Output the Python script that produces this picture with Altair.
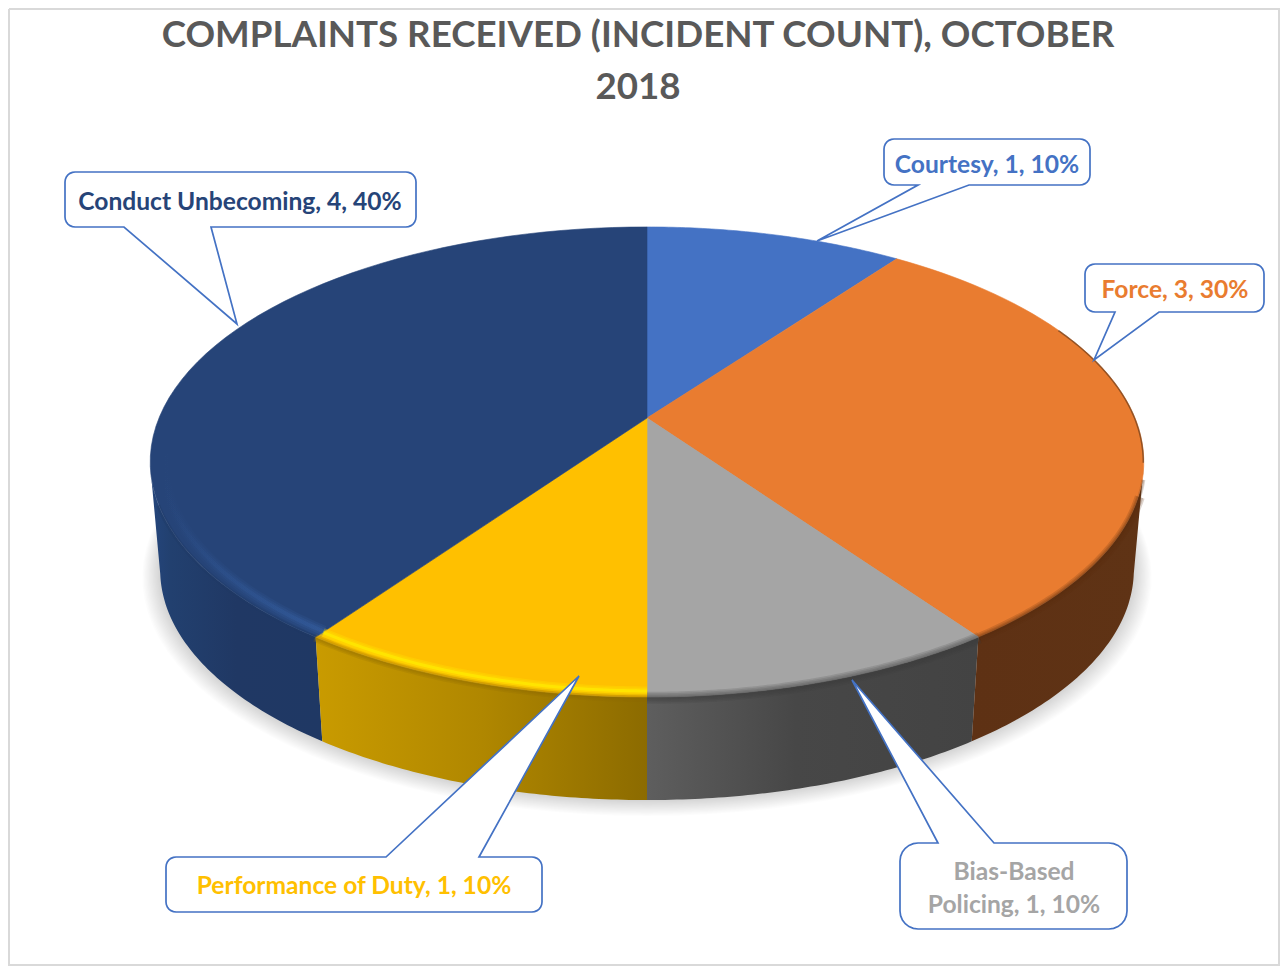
import math
import altair as alt
import pandas as pd

# ---- chart values ----
categories = ["Courtesy", "Force", "Bias-Based Policing", "Performance of Duty", "Conduct Unbecoming"]
counts = [1, 3, 1, 1, 4]
shares = ["10%", "30%", "10%", "10%", "40%"]
top_colors = ["#4472C4", "#E97C30", "#A5A5A5", "#FFC000", "#264478"]
title_lines = ["COMPLAINTS RECEIVED (INCIDENT COUNT), OCTOBER", "2018"]

# ---- layout (page pixels, mapped by the x / y scales) ----
W, H = 1272, 958
OX, OY = 8, 8
CX, CY = 647, 418
AX, AY, B = 488, 226.8, 0.1872
S_BOT, Y_BOT = 0.98, 526.6
FONT = "Lato"

xs = alt.X("x:Q", axis=None, scale=alt.Scale(domain=[OX, OX + W], nice=False, zero=False))
ys = alt.Y("y:Q", axis=None, scale=alt.Scale(domain=[OY + H, OY], nice=False, zero=False))


def pt(phi, s=1.0, cy=CY):
    a = math.radians(phi)
    a += math.radians(0.9 * math.sin(a) / 0.588 * (1 - math.cos(a)) / 1.809)
    u, v = math.sin(a), math.cos(a)
    d = 1 + B * v
    return CX + s * AX * u / d, cy - s * AY * v / d


def rim(p0, p1, s=1.0, cy=CY, n=60):
    return [pt(p0 + (p1 - p0) * i / n, s, cy) for i in range(n + 1)]


def frame(points, group=0):
    return pd.DataFrame({"x": [p[0] for p in points], "y": [p[1] for p in points],
                         "i": range(len(points)), "g": group})


def poly(points, **mark):
    d = frame(points)
    return alt.Chart(d).mark_line(**mark).encode(x=xs, y=ys, order=alt.Order("i:Q"))


def grad(stops):
    return alt.Gradient(gradient="linear", x1=0, y1=0, x2=1, y2=0,
                        stops=[alt.GradientStop(offset=o, color=c) for o, c in stops])


total = sum(counts)
edges = [0.0]
for c in counts:
    edges.append(edges[-1] + 360.0 * c / total)

layers = []

# soft shadow under the disc
shadow_n = 14
shadow = pd.concat([
    frame(rim(0, 360, S_BOT + 0.036 * (k + 1) / shadow_n, Y_BOT + 6.0 * (k + 1) / shadow_n, 120), k)
    for k in range(shadow_n)
])
layers.append(alt.Chart(shadow).mark_line(fill="#000000", fillOpacity=0.013, strokeWidth=0, stroke="transparent")
              .encode(x=xs, y=ys, detail="g:N", order=alt.Order("i:Q")))


def wall(p0, p1, stops):
    pts = rim(p0, p1) + rim(p1, p0, S_BOT, Y_BOT)
    return poly(pts, fill=grad(stops), strokeWidth=0, stroke="transparent")


# side walls, front half only
layers.append(wall(edges[4], 259.2, [(0, "#24457C"), (0.12, "#22406F"), (0.5, "#203864"), (1, "#1F3864")]))
layers.append(wall(edges[3], edges[4], [(0, "#C99B00"), (0.5, "#B08700"), (1, "#8C6B00")]))
layers.append(wall(edges[2], edges[3], [(0, "#5E5E5E"), (0.45, "#474747"), (1, "#434343")]))
layers.append(wall(100.8, edges[2], [(0, "#5E3114"), (1, "#5F3315")]))

# top faces
for i, color in enumerate(top_colors):
    pts = [(CX, CY)] + rim(edges[i], edges[i + 1])
    layers.append(poly(pts + [(CX, CY)], fill=color, stroke=color, strokeWidth=0.6))


def soft(p0, p1, s, color, widths, opacity):
    return [poly(rim(p0, p1, s), stroke=color, strokeWidth=w, opacity=opacity) for w in widths]


# bevel on the front rim, built from stacked soft strokes
layers += soft(edges[2], edges[3], 1.003, "#3A3A3A", [12, 9, 6, 3], 0.17)
layers += soft(108, edges[2], 1.003, "#5A2F10", [10, 7], 0.2)
layers += soft(104, edges[2], 1.002, "#5A2F10", [4, 2], 0.2)
layers += soft(edges[3], edges[4], 1.003, "#8C6B00", [8, 5, 2], 0.2)
layers += soft(edges[3], edges[4], 0.978, "#FFE500", [9, 6], 0.3)
layers += soft(edges[3], edges[4], 0.978, "#FFF000", [3], 0.6)
blue_fade = alt.Gradient(gradient="linear", x1=0, y1=0, x2=1, y2=0, stops=[
    alt.GradientStop(offset=0, color="rgba(58,104,176,0)"),
    alt.GradientStop(offset=0.35, color="rgba(58,104,176,0.45)"),
    alt.GradientStop(offset=1, color="rgba(58,104,176,1)"),
])
for w, o in [(12, 0.16), (8, 0.2), (4, 0.28)]:
    layers.append(poly(rim(edges[4], 262, 0.975), stroke=blue_fade, strokeWidth=w, opacity=o))
layers += soft(edges[4], 250, 1.001, "#1F3864", [4], 0.35)
layers += soft(65, 100, 0.999, "#4A2A12", [1.5], 0.55)


# callouts: (left, top, right, bottom, base start, base end, tip x, tip y, side)
def callout(l, t, r, b, b0, b1, tx, ty, side, rad=10):
    pts = []
    def corner(cx, cy, a0, a1):
        for k in range(7):
            a = math.radians(a0 + (a1 - a0) * k / 6)
            pts.append((cx + rad * math.cos(a), cy + rad * math.sin(a)))
    corner(l + rad, t + rad, 180, 270)
    if side == "top":
        pts += [(b0, t), (tx, ty), (b1, t)]
    corner(r - rad, t + rad, 270, 360)
    corner(r - rad, b - rad, 0, 90)
    if side == "bottom":
        pts += [(b1, b), (tx, ty), (b0, b)]
    corner(l + rad, b - rad, 90, 180)
    pts.append(pts[0])
    return poly(pts, fill="#FFFFFF", stroke="#4472C4", strokeWidth=1.7)


layers += [
    callout(884, 139, 1090, 185, 918, 969, 817, 241, "bottom"),
    callout(1085, 264, 1264, 312, 1115, 1159, 1094, 360, "bottom"),
    callout(900, 843, 1127, 929, 938, 994, 852, 680, "top", 18),
    callout(166, 857, 542, 912, 386, 479, 579, 676, "top"),
    callout(65, 172, 416, 227, 124, 211, 237, 324, "bottom"),
]

# label text
label_x = [987, 1175, 1014, 354, 240]
label_y = [165.5, 290.5, 888, 886.5, 202.5]
rows = []
for i, name in enumerate(categories):
    text = f"{name}, {counts[i]}, {shares[i]}"
    if name.startswith("Bias"):
        rows.append(dict(x=label_x[i], y=872.5, t="Bias-Based", c=top_colors[i]))
        rows.append(dict(x=label_x[i], y=905.5, t=f"Policing, {counts[i]}, {shares[i]}", c=top_colors[i]))
    else:
        rows.append(dict(x=label_x[i], y=label_y[i], t=text, c=top_colors[i]))
labels = pd.DataFrame(rows)
layers.append(alt.Chart(labels).mark_text(font=FONT, fontWeight="bold", fontSize=24.6, baseline="middle", align="center")
              .encode(x=xs, y=ys, text="t:N", color=alt.Color("c:N", scale=None)))

# title
titles = pd.DataFrame({"x": [638, 638], "y": [35.5, 87.5], "t": title_lines})
layers.append(alt.Chart(titles).mark_text(font=FONT, fontWeight="bold", fontSize=36.7, baseline="middle", align="center", color="#595959")
              .encode(x=xs, y=ys, text="t:N"))

# chart frame
frame_pts = [(9, 9), (1279, 9), (1279, 965), (9, 965), (9, 9)]
layers.append(poly(frame_pts, stroke="#D9D9D9", strokeWidth=2))

chart = alt.layer(*layers).properties(
    width=W, height=H, autosize=alt.AutoSizeParams(type="none"), padding=0
).configure_view(stroke=None)

chart.save("out.html", embed_options={"renderer": "svg", "actions": False})
